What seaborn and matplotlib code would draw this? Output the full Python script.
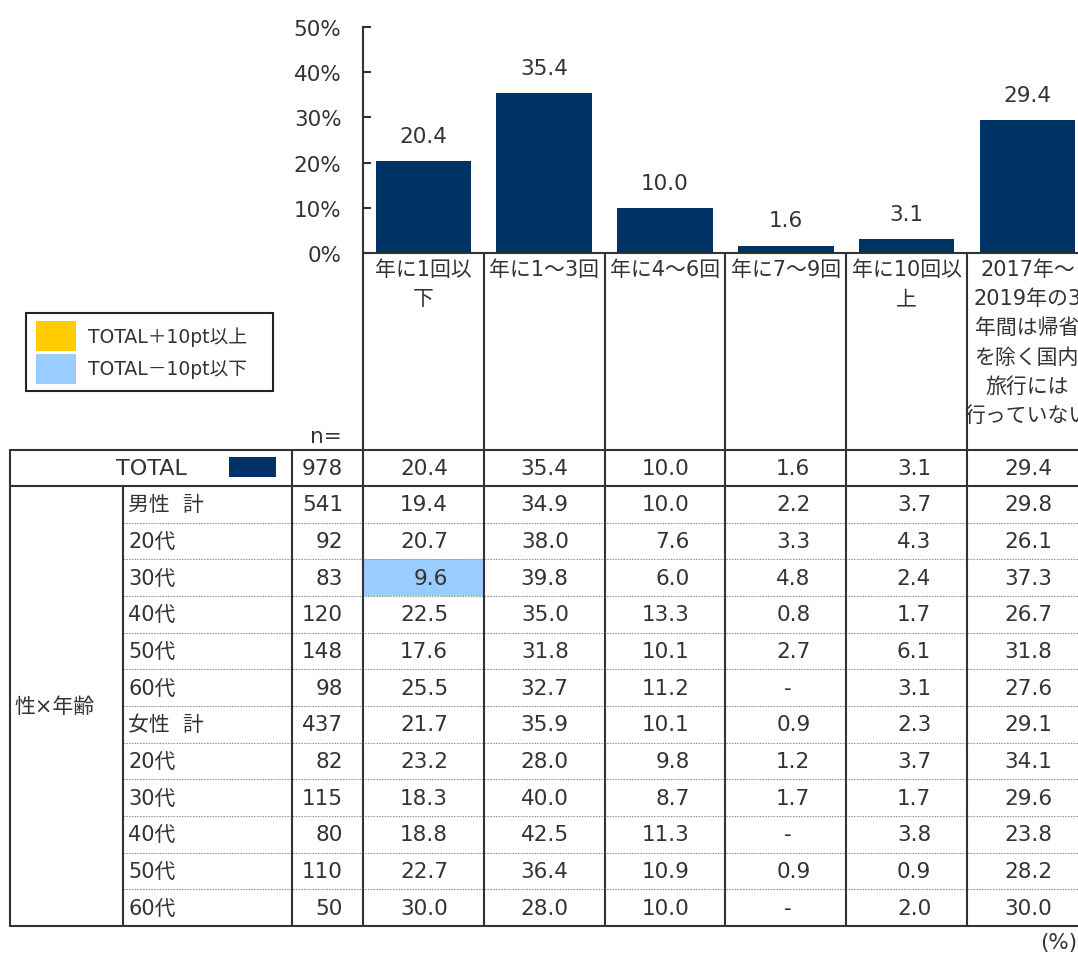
import matplotlib
matplotlib.use('Agg')
import matplotlib.pyplot as plt
from matplotlib.patches import Rectangle
from matplotlib.ticker import FuncFormatter
import seaborn as sns

# ---- data ----
categories = ['年に1回以\n下', '年に1～3回', '年に4～6回', '年に7～9回', '年に10回以\n上',
              '2017年～\n2019年の3\n年間は帰省\nを除く国内\n旅行には\n行っていない']
total_values = [20.4, 35.4, 10.0, 1.6, 3.1, 29.4]
total_n = 978
segment_label = '性×年齢'
row_labels = ['男性  計', '20代', '30代', '40代', '50代', '60代',
              '女性  計', '20代', '30代', '40代', '50代', '60代']
row_n = [541, 92, 83, 120, 148, 98, 437, 82, 115, 80, 110, 50]
row_values = [
    [19.4, 34.9, 10.0, 2.2, 3.7, 29.8],
    [20.7, 38.0, 7.6, 3.3, 4.3, 26.1],
    [9.6, 39.8, 6.0, 4.8, 2.4, 37.3],
    [22.5, 35.0, 13.3, 0.8, 1.7, 26.7],
    [17.6, 31.8, 10.1, 2.7, 6.1, 31.8],
    [25.5, 32.7, 11.2, None, 3.1, 27.6],
    [21.7, 35.9, 10.1, 0.9, 2.3, 29.1],
    [23.2, 28.0, 9.8, 1.2, 3.7, 34.1],
    [18.3, 40.0, 8.7, 1.7, 1.7, 29.6],
    [18.8, 42.5, 11.3, None, 3.8, 23.8],
    [22.7, 36.4, 10.9, 0.9, 0.9, 28.2],
    [30.0, 28.0, 10.0, None, 2.0, 30.0],
]
legend_labels = ['TOTAL＋10pt以上', 'TOTAL－10pt以下']

NAVY = '#003263'
UP = '#FFCC00'
DOWN = '#99CCFF'
TXT = '#333333'
LINE = '#333333'

sns.set_style('ticks')
plt.rcParams['font.family'] = ['DejaVu Sans', 'Noto Sans CJK JP']

W, H = 1078, 954
fig = plt.figure(figsize=(W / 100, H / 100), dpi=100)

# layout in pixels
col0 = 363.0
colw = 120.8
y0, y50 = 254.0, 28.0
hdr_bottom = 451.0
total_bottom = 487.0
rowh = 36.67
fs = 15.5      # numbers
fsj = 15       # japanese text

# ---- bar chart ----
ax = fig.add_axes([col0 / W, (H - y0) / H, (W - col0) / W, (y0 - y50) / H])
ax.set_facecolor('none')
sns.barplot(x=list(range(len(categories))), y=total_values, color=NAVY,
            width=0.79, saturation=1, ax=ax, edgecolor='none')
ax.set_xlim(-0.5, -0.5 + (W - col0) / colw)
ax.set_ylim(0, 50)
ax.set_yticks([0, 10, 20, 30, 40, 50])
ax.yaxis.set_major_formatter(FuncFormatter(lambda v, p: f'{v:.0f}%'))
ax.set_xticks([])
ax.tick_params(axis='y', direction='in', length=6, width=1.5, color=LINE,
               labelsize=fs, labelcolor=TXT, pad=15.5)
for s in ['top', 'right']:
    ax.spines[s].set_visible(False)
for s in ['left', 'bottom']:
    ax.spines[s].set_color(LINE)
    ax.spines[s].set_linewidth(1.5)
ax.set_xlabel('')
ax.set_ylabel('')
ax.bar_label(ax.containers[0], fmt='%.1f', padding=11, fontsize=fs, color=TXT)

# ---- table overlay ----
ov = fig.add_axes([0, 0, 1, 1])
ov.set_xlim(0, W)
ov.set_ylim(H, 0)
ov.axis('off')
ov.patch.set_alpha(0)

n_rows = len(row_labels)
table_bottom = total_bottom + n_rows * rowh
col_edges = [col0 + i * colw for i in range(len(categories))]

# highlight cells
for i, vals in enumerate(row_values):
    for j, v in enumerate(vals):
        if v is None:
            continue
        diff = v - total_values[j]
        if diff >= 10 or diff <= -10:
            ov.add_patch(Rectangle((col_edges[j], total_bottom + i * rowh), colw, rowh,
                                   facecolor=UP if diff >= 10 else DOWN, edgecolor='none'))

# dotted row separators
for i in range(1, n_rows):
    y = total_bottom + i * rowh
    ov.plot([123, W], [y, y], color='#999999', lw=0.8, ls=(0, (1.5, 1.0)))

# solid lines
for y in [hdr_bottom, total_bottom, table_bottom]:
    ov.plot([10, W], [y, y], color=LINE, lw=1.5)
ov.plot([10, 10], [hdr_bottom, table_bottom], color=LINE, lw=1.5)
ov.plot([123, 123], [total_bottom, table_bottom], color=LINE, lw=1.5)
ov.plot([292, 292], [hdr_bottom, table_bottom], color=LINE, lw=1.5)
for x in col_edges:
    ov.plot([x, x], [y0, table_bottom], color=LINE, lw=1.5)

# header labels
for j, lab in enumerate(categories):
    cx = col_edges[j] + colw / 2
    for k, line in enumerate(lab.split('\n')):
        ov.text(cx, 270 + k * 29.2, line, ha='center', va='center', fontsize=fsj, color=TXT)

ov.text(342, 437, 'n=', ha='right', va='center', fontsize=fs, color=TXT)

# TOTAL row
ty = (hdr_bottom + total_bottom) / 2
ov.text(151, ty, 'TOTAL', ha='center', va='center', fontsize=16, color=TXT)
ov.add_patch(Rectangle((229, 458), 47, 20, facecolor=NAVY, edgecolor='none'))
ov.text(343, ty, str(total_n), ha='right', va='center', fontsize=fs, color=TXT)
for j, v in enumerate(total_values):
    ov.text(col_edges[j] + 85, ty, f'{v:.1f}', ha='right', va='center', fontsize=fs, color=TXT)

# segment rows
ov.text(14, total_bottom + n_rows * rowh / 2, segment_label, ha='left', va='center',
        fontsize=fsj, color=TXT)
for i, lab in enumerate(row_labels):
    cy = total_bottom + i * rowh + rowh / 2
    ov.text(128, cy, lab, ha='left', va='center', fontsize=fsj, color=TXT)
    ov.text(343, cy, str(row_n[i]), ha='right', va='center', fontsize=fs, color=TXT)
    for j, v in enumerate(row_values[i]):
        if v is None:
            ov.text(col_edges[j] + colw / 2 + 2, cy, '-', ha='center', va='center',
                    fontsize=fs, color=TXT)
        else:
            ov.text(col_edges[j] + 85, cy, f'{v:.1f}', ha='right', va='center',
                    fontsize=fs, color=TXT)

ov.text(1040, 943, '(%)', ha='left', va='center', fontsize=fs, color=TXT)

# legend box
ov.add_patch(Rectangle((26, 314), 247, 78, facecolor='white', edgecolor='#222222', lw=1.5))
for k, (c, lab) in enumerate(zip([UP, DOWN], legend_labels)):
    yy = 322 + k * 33
    ov.add_patch(Rectangle((36, yy), 40, 30, facecolor=c, edgecolor='none'))
    ov.text(88, yy + 15, lab, ha='left', va='center', fontsize=13.5, color=TXT)

fig.savefig('out.png', dpi=100)
